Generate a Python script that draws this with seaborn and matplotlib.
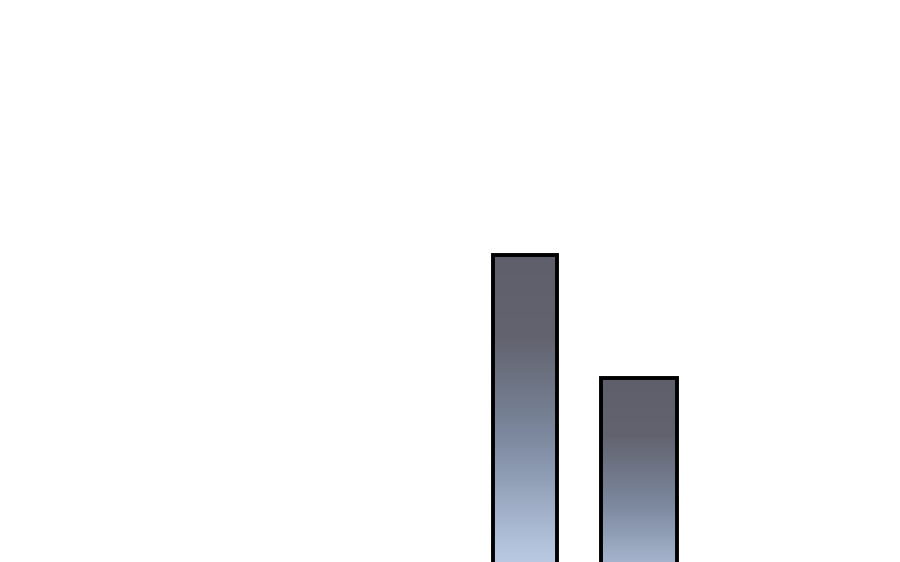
import numpy as np
import pandas as pd
import matplotlib
matplotlib.use("Agg")
import matplotlib.pyplot as plt
import seaborn as sns
from matplotlib.colors import LinearSegmentedColormap

categories = ["A", "B"]
values = [100, 70]

sns.set_theme(style="white")
df = pd.DataFrame({"cat": categories, "val": values})

fig = plt.figure(figsize=(9, 5.62), dpi=100)
ax = fig.add_axes([0, 0, 1, 1])
sns.barplot(data=df, x="cat", y="val", ax=ax, color="white",
            edgecolor="black", linewidth=2.8)

widths = [0.561, 0.667]
cmap = LinearSegmentedColormap.from_list(
    "g", [(0.0, "#5f5f6b"), (0.2, "#62636f"), (0.45, "#7d8aa0"),
          (0.72, "#b5c5de"), (1.0, "#dce8fa")])
grad = np.linspace(0, 1, 256).reshape(-1, 1)

for p, w in zip(ax.patches, widths):
    cx = p.get_x() + p.get_width() / 2
    p.set_x(cx - w / 2)
    p.set_width(w)
    p.set_facecolor("none")
    p.set_zorder(3)
    h = p.get_height()
    im = ax.imshow(grad, cmap=cmap, aspect="auto", origin="upper",
                   extent=[cx - w / 2, cx + w / 2, 0, h], zorder=2, vmin=0, vmax=1)
    im.set_clip_path(p)

ax.set_xlim(-525 / 114, (900 - 525) / 114)
ax.set_ylim((665 - 562) / 4.1, 665 / 4.1)
ax.axis("off")
fig.savefig("out.png", dpi=100)
